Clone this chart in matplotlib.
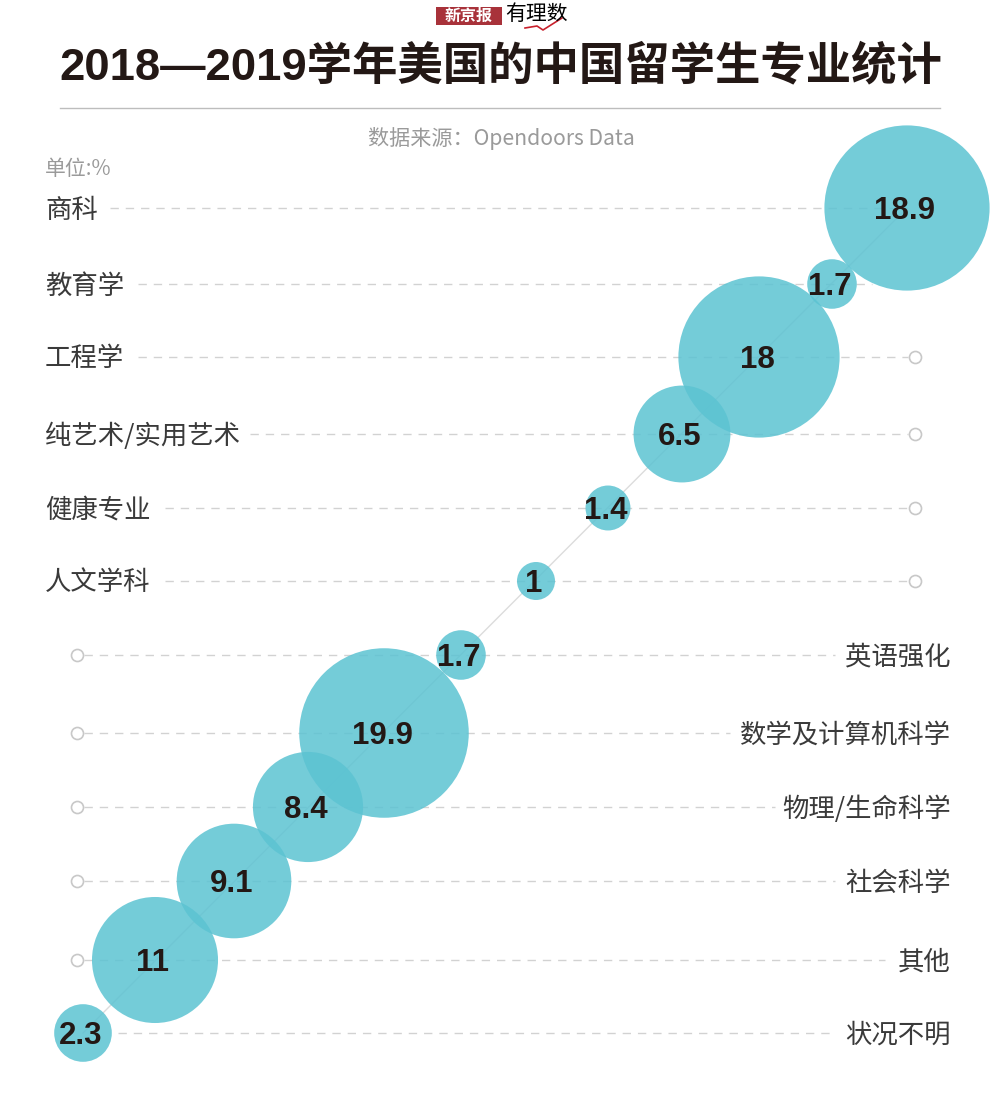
# -*- coding: utf-8 -*-
import matplotlib
matplotlib.use("Agg")
import matplotlib.pyplot as plt

plt.rcParams["font.family"] = ["Noto Sans CJK SC", "DejaVu Sans"]

# 数据
categories = ["商科", "教育学", "工程学", "纯艺术/实用艺术", "健康专业", "人文学科",
              "英语强化", "数学及计算机科学", "物理/生命科学", "社会科学", "其他", "状况不明"]
values = [18.9, 1.7, 18, 6.5, 1.4, 1, 1.7, 19.9, 8.4, 9.1, 11, 2.3]

# 版面（像素坐标）
row_x = [907, 832, 759, 682, 608, 536, 461, 384, 308, 234, 155, 83]
row_y = [208, 284, 357, 434, 508, 581, 655, 733, 807, 881, 960, 1033]
line_start = [110, 138, 138, 250, 165, 165, 84, 84, 84, 84, 84, 118]
line_end = [907, 872, 908, 908, 908, 908, 835, 730, 775, 835, 885, 835]
ring_x = [None, None, 915, 915, 915, 915, 77, 77, 77, 77, 77, None]

BLUE = "#5cc3d2"
INK = "#231815"
TEXT = "#3a3a3a"
GRAY = "#9a9a9a"
DASH = "#d2d2d2"
RED = "#a8323a"
LATIN_CJK = ["Liberation Sans", "Noto Sans CJK SC"]

fig = plt.figure(figsize=(10, 11.06), dpi=100)
ax = fig.add_axes([0, 0, 1, 1])
ax.set_xlim(0, 1000)
ax.set_ylim(1106, 0)
ax.axis("off")

# 报头
ax.fill_between([436, 502], 7, 25, color=RED, lw=0)
ax.text(469, 16, "新京报", ha="center", va="center", color="white",
        fontsize=11.5, fontweight="bold")
ax.text(537, 14, "有理数", ha="center", va="center", color="black", fontsize=15)
ax.plot([525, 537, 543, 562], [28, 26, 30, 18], color="#c8202c", lw=1.2)

# 标题
ax.text(501, 66, "2018—2019学年美国的中国留学生专业统计", ha="center", va="center",
        color=INK, fontsize=32.7, fontweight="bold", family=LATIN_CJK)
ax.plot([60, 940], [108, 108], color="#bdbdbd", lw=1)
ax.text(501, 138, "数据来源：Opendoors Data", ha="center", va="center",
        color=GRAY, fontsize=15.2, family=["Noto Sans CJK SC", "Liberation Sans"])
ax.text(45, 169, "单位:%", ha="left", va="center", color=GRAY, fontsize=15)

# 对角线与虚线
ax.plot([row_x[-1], row_x[0]], [row_y[-1], row_y[0]], color="#dcdcdc", lw=1, zorder=1)
for i in range(len(categories)):
    ax.plot([line_start[i], line_end[i]], [row_y[i], row_y[i]], color=DASH, lw=1,
            dashes=(6, 5), zorder=1)
    if ring_x[i] is not None:
        ax.scatter([ring_x[i]], [row_y[i]], s=75, facecolor="white", edgecolor="#c8c8c8",
                   linewidth=1.2, zorder=2)
    if i < 6:
        ax.text(45, row_y[i] + 2, categories[i], ha="left", va="center", color=TEXT, fontsize=19)
    else:
        ax.text(951, row_y[i] + 2, categories[i], ha="right", va="center", color=TEXT, fontsize=19)

# 气泡：面积与数值成正比
sizes = [748.6 * v for v in values]
ax.scatter(row_x, row_y, s=sizes, color=BLUE, alpha=0.85, linewidth=0, zorder=3)
for x, y, v in zip(row_x, row_y, values):
    ax.text(x - 2, y + 3, str(v), ha="center", va="center", color=INK, fontsize=22.5,
            fontweight="bold", family="Liberation Sans", zorder=4)

fig.savefig("out.png", dpi=100, facecolor="white")
